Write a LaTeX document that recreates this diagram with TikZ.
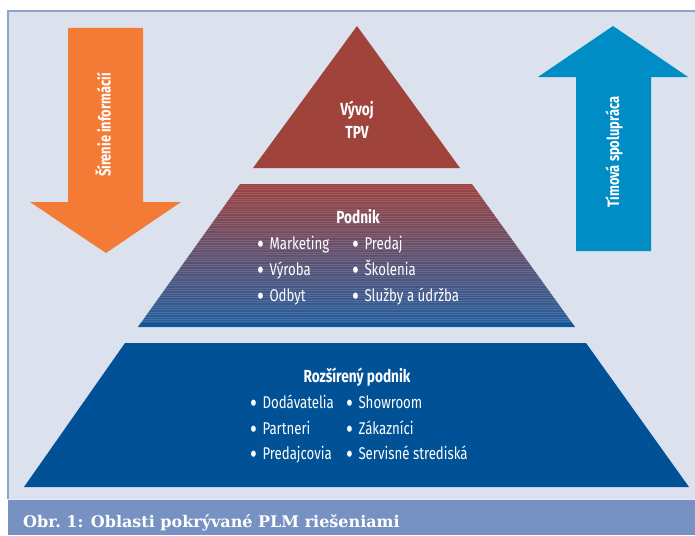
\documentclass[tikz,border=0pt]{standalone}
\usepackage{fontspec}
\setmainfont{Liberation Serif}
\newfontfamily\condsans[FakeStretch=0.78]{Fira Sans}
\newfontfamily\capserif{DejaVu Serif}
\newcommand{\dotitem}{\raisebox{-0.24em}{\scalebox{1.6}{\textbullet}}\hspace{0.32em}}

\definecolor{panelbg}{RGB}{220,225,238}
\definecolor{panelline}{RGB}{143,163,204}
\definecolor{captionbg}{RGB}{119,146,194}
\definecolor{arroworange}{RGB}{244,123,53}
\definecolor{arrowblue}{RGB}{0,140,196}
\definecolor{topred}{RGB}{160,67,59}
\definecolor{midred}{RGB}{156,66,64}
\definecolor{midblue}{RGB}{34,94,158}
\definecolor{baseblue}{RGB}{0,81,149}

\begin{document}
\begin{tikzpicture}[x=1pt,y=-1pt,
    heading/.style={text=white, align=center, inner sep=0pt,
      font=\condsans\bfseries\fontsize{17.5}{23}\selectfont},
    item/.style={text=white, anchor=base west, inner sep=0pt,
      font=\condsans\fontsize{17}{20}\selectfont},
    arrowtext/.style={text=white, rotate=90, inner sep=0pt,
      font=\condsans\bfseries\fontsize{16.5}{19}\selectfont}]
    \useasboundingbox (0,0) rectangle (695,535);
    \fill[white] (0,0) rectangle (695,535);
    % panel and caption bar
    \fill[panelbg] (8,11) rectangle (695,499);
    \draw[panelline, line width=1.2pt] (8,499) -- (8,11) -- (695,11);
    \fill[captionbg] (8,499) rectangle (695,535);
    \draw[white!80!captionbg, line width=0.8pt] (8,499.5) -- (695,499.5);
    \node[anchor=base west, text=white, inner sep=0pt,
      font=\capserif\bfseries\fontsize{16}{19}\selectfont] (caption) at (23,527)
      {Obr.\ 1: Oblasti pokrývané PLM riešeniami};

    % side arrows
    \fill[arroworange] (68,28) -- (143,28) -- (143,202) -- (181,202) -- (106,253)
      -- (30,202) -- (68,202) -- cycle;
    \node[arrowtext] (sirenie) at (103,125) {Šírenie informácií};
    \fill[arrowblue] (613,26) -- (688,77) -- (651,77) -- (651,251) -- (576,251)
      -- (576,77) -- (538,77) -- cycle;
    \node[arrowtext] (timova) at (614,152) {Tímová spolupráca};

    % pyramid
    \fill[topred] (357,26) -- (460,168) -- (253,168) -- cycle;
    \node[heading] (vyvoj) at (357,120) {Vývoj\\TPV};

    \begin{scope}
      \clip (240,184) -- (472,184) -- (575,327) -- (138,327) -- cycle;
      \shade[top color=midred, bottom color=midblue] (130,184) rectangle (580,327);
      \foreach \y in {185,187.4,...,327}
        \draw[white, opacity=0.13, line width=0.7pt] (130,\y) -- (580,\y);
      \fill[baseblue, opacity=0.7] (130,323) rectangle (580,327);
    \end{scope}
    \node[heading] (podnik) at (358,217) {Podnik};
    \node[item] (marketing) at (257,249) {\dotitem Marketing};
    \node[item] (vyroba) at (257,275) {\dotitem Výroba};
    \node[item] (odbyt) at (257,301) {\dotitem Odbyt};
    \node[item] (predaj) at (352,249) {\dotitem Predaj};
    \node[item] (skolenia) at (352,275) {\dotitem Školenia};
    \node[item] (sluzby) at (352,301) {\dotitem Služby a údržba};

    \fill[baseblue] (125,343) -- (586,343) -- (689,487) -- (24,487) -- cycle;
    \node[heading] (rozsireny) at (357,377) {Rozšírený podnik};
    \node[item] (dodavatelia) at (250,408) {\dotitem Dodávatelia};
    \node[item] (partneri) at (250,434) {\dotitem Partneri};
    \node[item] (predajcovia) at (250,459) {\dotitem Predajcovia};
    \node[item] (showroom) at (346,408) {\dotitem Showroom};
    \node[item] (zakaznici) at (346,434) {\dotitem Zákazníci};
    \node[item] (servisne) at (346,459) {\dotitem Servisné strediská};
\end{tikzpicture}
\end{document}
